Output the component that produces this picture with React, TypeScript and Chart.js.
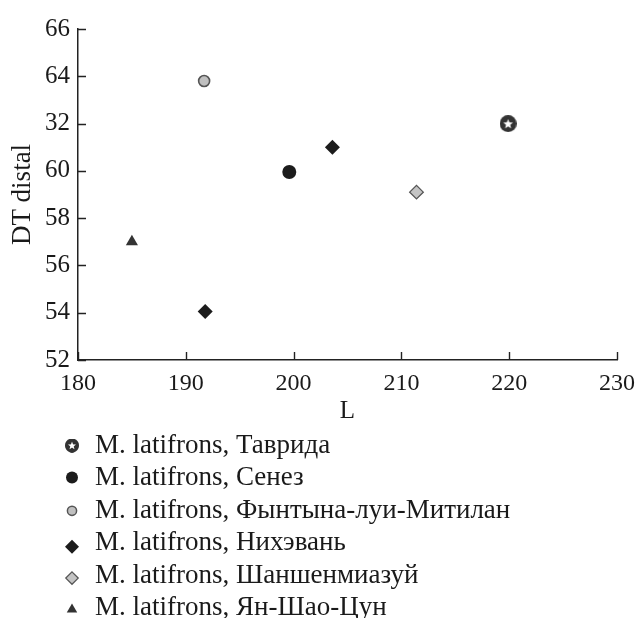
import React, { useEffect, useRef } from 'react';
import { Chart, registerables } from 'chart.js';

Chart.register(...registerables);

// ---- data ----
const seriesNames = [
  'M. latifrons, Таврида',
  'M. latifrons, Сенез',
  'M. latifrons, Фынтына-луи-Митилан',
  'M. latifrons, Нихэвань',
  'M. latifrons, Шаншенмиазуй',
  'M. latifrons, Ян-Шао-Цун',
];
const tavridaL = [219.9];
const tavridaDT = [62.0];
const senezL = [199.6];
const senezDT = [59.95];
const fyntynaL = [191.7];
const fyntynaDT = [63.8];
const nikhevanL = [203.6, 191.8];
const nikhevanDT = [61.0, 54.05];
const shanshenL = [211.4];
const shanshenDT = [59.1];
const yanL = [185.0];
const yanDT = [57.0];

const xTickValues = [180, 190, 200, 210, 220, 230];
const yTickValues = [52, 54, 56, 58, 60, 62, 64, 66];
const yTickLabels = ['52', '54', '56', '58', '60', '32', '64', '66'];
const xTitle = 'L';
const yTitle = 'DT distal';

const SERIF = '"Liberation Serif", "Times New Roman", serif';
const W = 636;
const H = 618;

function makeStarImage(size: number): HTMLCanvasElement {
  const c = document.createElement('canvas');
  c.width = size;
  c.height = size;
  const g = c.getContext('2d')!;
  const cx = size / 2, cy = size / 2;
  g.fillStyle = '#333333';
  g.beginPath();
  g.arc(cx, cy, size / 2, 0, Math.PI * 2);
  g.fill();
  const ro = size * 0.3, ri = size * 0.13;
  g.fillStyle = '#ffffff';
  g.beginPath();
  for (let i = 0; i < 10; i++) {
    const r = i % 2 === 0 ? ro : ri;
    const a = -Math.PI / 2 + (i * Math.PI) / 5;
    const px = cx + r * Math.cos(a);
    const py = cy + 0.6 + r * Math.sin(a);
    if (i === 0) g.moveTo(px, py); else g.lineTo(px, py);
  }
  g.closePath();
  g.fill();
  return c;
}

function zip(xs: number[], ys: number[]) {
  return xs.map((x, i) => ({ x, y: ys[i] }));
}

type MarkerStyle = {
  kind: 'star' | 'circle' | 'diamond' | 'triangle';
  fill: string;
  stroke: string;
  lw: number;
  legendR: number;
  dy: number;
};

const markerStyles: MarkerStyle[] = [
  { kind: 'star', fill: '#333333', stroke: '#333333', lw: 0, legendR: 7, dy: 7.5 },
  { kind: 'circle', fill: '#1c1c1c', stroke: '#1c1c1c', lw: 0, legendR: 6, dy: 8 },
  { kind: 'circle', fill: '#c0c0c0', stroke: '#555555', lw: 1.5, legendR: 4.6, dy: 7 },
  { kind: 'diamond', fill: '#1c1c1c', stroke: '#1c1c1c', lw: 0, legendR: 7, dy: 3.5 },
  { kind: 'diamond', fill: '#c4c4c4', stroke: '#555555', lw: 1.3, legendR: 6.2, dy: 4.5 },
  { kind: 'triangle', fill: '#333333', stroke: '#333333', lw: 0, legendR: 6, dy: 6 },
];

function drawMarker(ctx: CanvasRenderingContext2D, m: MarkerStyle, x: number, y: number, star: HTMLCanvasElement) {
  const r = m.legendR;
  ctx.save();
  if (m.kind === 'star') {
    ctx.drawImage(star, x - r, y - r, 2 * r, 2 * r);
    ctx.restore();
    return;
  }
  ctx.beginPath();
  if (m.kind === 'circle') {
    ctx.arc(x, y, r, 0, Math.PI * 2);
  } else if (m.kind === 'diamond') {
    ctx.moveTo(x, y - r);
    ctx.lineTo(x + r, y);
    ctx.lineTo(x, y + r);
    ctx.lineTo(x - r, y);
    ctx.closePath();
  } else {
    const h = r * 1.5;
    ctx.moveTo(x, y - h * 0.6);
    ctx.lineTo(x + r * 0.87, y + h * 0.4);
    ctx.lineTo(x - r * 0.87, y + h * 0.4);
    ctx.closePath();
  }
  ctx.fillStyle = m.fill;
  ctx.fill();
  if (m.lw > 0) {
    ctx.lineWidth = m.lw;
    ctx.strokeStyle = m.stroke;
    ctx.stroke();
  }
  ctx.restore();
}

export default function App() {
  const ref = useRef<HTMLCanvasElement | null>(null);

  useEffect(() => {
    if (!ref.current) return;
    const starPoint = makeStarImage(17);
    const starLegend = makeStarImage(28);

    const innerTicks = {
      id: 'innerTicks',
      afterDraw(chart: any) {
        const ctx = chart.ctx as CanvasRenderingContext2D;
        const xs = chart.scales.x;
        const ys = chart.scales.y;
        const area = chart.chartArea;
        ctx.save();
        ctx.strokeStyle = '#222222';
        ctx.lineWidth = 1.4;
        ctx.beginPath();
        yTickValues.forEach((v) => {
          const py = Math.round(ys.getPixelForValue(v)) + 0.5;
          ctx.moveTo(area.left, py);
          ctx.lineTo(area.left + 8, py);
        });
        xTickValues.forEach((v) => {
          const px = Math.round(xs.getPixelForValue(v)) + 0.5;
          ctx.moveTo(px, area.bottom);
          ctx.lineTo(px, area.bottom - 8);
        });
        ctx.stroke();
        ctx.restore();
      },
    };

    const customLegend = {
      id: 'customLegend',
      afterDraw(chart: any) {
        const ctx = chart.ctx as CanvasRenderingContext2D;
        const base = chart.chartArea.bottom;
        ctx.save();
        ctx.font = '27px ' + SERIF;
        ctx.fillStyle = '#1a1a1a';
        ctx.textAlign = 'left';
        ctx.textBaseline = 'alphabetic';
        seriesNames.forEach((name, i) => {
          const baseline = base + 93 + i * 32.4;
          const m = markerStyles[i];
          drawMarker(ctx, m, 72, baseline - m.dy, starLegend);
          ctx.fillText(name, 95, baseline);
        });
        ctx.restore();
      },
    };

    const chart = new Chart(ref.current, {
      type: 'scatter',
      data: {
        datasets: [
          {
            label: seriesNames[0],
            data: zip(tavridaL, tavridaDT),
            pointStyle: starPoint as any,
            pointRadius: 8.5,
          },
          {
            label: seriesNames[1],
            data: zip(senezL, senezDT),
            pointStyle: 'circle',
            pointRadius: 7,
            backgroundColor: '#1c1c1c',
            borderColor: '#1c1c1c',
            borderWidth: 0,
          },
          {
            label: seriesNames[2],
            data: zip(fyntynaL, fyntynaDT),
            pointStyle: 'circle',
            pointRadius: 5.5,
            backgroundColor: '#c0c0c0',
            borderColor: '#555555',
            borderWidth: 1.6,
          },
          {
            label: seriesNames[3],
            data: zip(nikhevanL, nikhevanDT),
            pointStyle: 'rectRot',
            pointRadius: 7.5,
            backgroundColor: '#1c1c1c',
            borderColor: '#1c1c1c',
            borderWidth: 0,
          },
          {
            label: seriesNames[4],
            data: zip(shanshenL, shanshenDT),
            pointStyle: 'rectRot',
            pointRadius: 6.8,
            backgroundColor: '#c4c4c4',
            borderColor: '#555555',
            borderWidth: 1.3,
          },
          {
            label: seriesNames[5],
            data: zip(yanL, yanDT),
            pointStyle: 'triangle',
            pointRadius: 7,
            backgroundColor: '#333333',
            borderColor: '#333333',
            borderWidth: 0,
          },
        ],
      },
      options: {
        animation: false,
        responsive: false,
        maintainAspectRatio: false,
        devicePixelRatio: 1,
        layout: { padding: { left: 0, top: 29, right: 19, bottom: 192 } },
        plugins: {
          legend: { display: false },
          tooltip: { enabled: false },
        },
        scales: {
          x: {
            type: 'linear',
            min: 180,
            max: 230,
            afterBuildTicks: (s: any) => {
              s.ticks = xTickValues.map((v) => ({ value: v }));
            },
            afterFit: (s: any) => {
              s.height = 66;
              s.paddingLeft = 0;
              s.paddingRight = 0;
            },
            grid: { display: false, drawTicks: false },
            border: { display: true, color: '#222222', width: 1.5 },
            ticks: {
              color: '#1a1a1a',
              font: { family: SERIF, size: 24 },
              padding: 9,
              maxRotation: 0,
              autoSkip: false,
            },
            title: {
              display: true,
              text: xTitle,
              color: '#1a1a1a',
              font: { family: SERIF, size: 25 },
              padding: { top: 0, bottom: 0 },
            },
          },
          y: {
            type: 'linear',
            min: 52,
            max: 66,
            afterBuildTicks: (s: any) => {
              s.ticks = yTickValues.map((v) => ({ value: v }));
            },
            afterFit: (s: any) => {
              s.width = 78;
              s.paddingTop = 0;
              s.paddingBottom = 0;
            },
            grid: { display: false, drawTicks: false },
            border: { display: true, color: '#222222', width: 1.5 },
            ticks: {
              color: '#1a1a1a',
              font: { family: SERIF, size: 25 },
              padding: 8,
              autoSkip: false,
              callback: (v: any) => {
                const idx = yTickValues.indexOf(Number(v));
                return idx >= 0 ? yTickLabels[idx] : '';
              },
            },
            title: {
              display: true,
              text: yTitle,
              color: '#1a1a1a',
              font: { family: SERIF, size: 27 },
              padding: { top: 7, bottom: 0 },
            },
          },
        },
      },
      plugins: [innerTicks, customLegend],
    });
    return () => chart.destroy();
  }, []);

  return (
    <div style={{ position: 'fixed', left: 0, top: 0, width: W, height: H, background: '#ffffff' }}>
      <canvas ref={ref} width={W} height={H} style={{ display: 'block', width: W, height: H }} />
    </div>
  );
}
